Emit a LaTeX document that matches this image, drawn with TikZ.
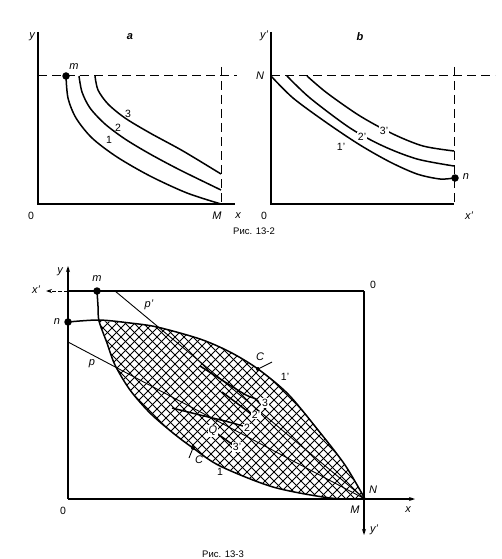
\documentclass[tikz,border=0pt]{standalone}
\usepackage{fontspec}
\setmainfont{Liberation Sans}
\usetikzlibrary{arrows.meta}
\begin{document}
\begin{tikzpicture}[x=1pt,y=-1pt,
  lbl/.style={font=\fontsize{11}{13}\selectfont\itshape, inner sep=0pt},
  num/.style={font=\fontsize{10.5}{12}\selectfont, inner sep=0pt},
  captext/.style={font=\fontsize{9.5}{11}\selectfont, inner sep=0pt},
  axisline/.style={line width=1.1pt},
  curve/.style={line width=1.5pt, line join=round},
  thinc/.style={line width=0.9pt},
  dashline/.style={line width=1pt, dash pattern=on 9pt off 5pt},
  bigdot/.style={circle, fill=black, inner sep=0pt, minimum size=7.5pt},
  smalldot/.style={circle, fill=black, inner sep=0pt, minimum size=4pt},
  hatch/.style={line width=1pt},
]
\useasboundingbox (0,0) rectangle (502,559);

% ---------------- Fig 13-2 a ----------------
\coordinate (aO) at (38,204);
\coordinate (aYt) at (38,32);
\coordinate (aXe) at (235,204);
\draw[axisline] (aYt) -- (aO) -- (aXe);
\coordinate (aDh1) at (38,76); \coordinate (aDh2) at (237,76);
\coordinate (aDv1) at (221,67); \coordinate (aDv2) at (221,204);
\draw[dashline] (aDh1) -- (aDh2);
\draw[dashline] (aDv1) -- (aDv2);
\draw[curve] plot[smooth] coordinates {(66,76) (68,98) (76,118) (92,138) (117,157) (150,176) (187,193) (221,204)};
\draw[curve] plot[smooth] coordinates {(79,76) (82,92) (90,108) (105,124) (125,139) (150,154) (180,170) (221,190)};
\draw[curve] plot[smooth] coordinates {(95,76) (98,90) (108,104) (125,118) (150,133) (183,151) (221,174)};
\node[bigdot] (m1) at (66,76) {};
\node[lbl] (lm1) at (74,67) {m};
\node[lbl] (ly1) at (32,37) {y};
\node[lbl, font=\fontsize{11}{13}\selectfont\bfseries\itshape] (la) at (130,37) {a};
\node[num] (l01) at (31,216) {0};
\node[lbl] (lM1) at (217,216) {M};
\node[lbl] (lx1) at (238,216) {x};
\node[num] (c1) at (109,140) {1};
\node[num] (c2) at (118,128) {2};
\node[num] (c3) at (128,114) {3};

% ---------------- Fig 13-2 b ----------------
\coordinate (bO) at (271,204);
\coordinate (bYt) at (271,32);
\coordinate (bXe) at (454,204);
\draw[axisline] (bYt) -- (bO) -- (bXe);
\coordinate (bDh1) at (271,76); \coordinate (bDh2) at (495,76);
\coordinate (bDv1) at (454,67); \coordinate (bDv2) at (454,204);
\draw[dashline] (bDh1) -- (bDh2);
\draw[dashline] (bDv1) -- (bDv2);
\draw[curve] plot[smooth] coordinates {(271,76) (293,98) (327,123) (360,145) (390,162) (417,174) (440,179) (454,178)};
\draw[curve] plot[smooth] coordinates {(287,76) (310,98) (350,128) (383,146) (417,159) (454,166)};
\draw[curve] plot[smooth] coordinates {(307,76) (327,93) (360,116) (393,134) (423,146) (454,151)};
\node[bigdot] (n1) at (455,178) {};
\node[lbl] (ln1) at (466,177) {n};
\node[lbl] (lyb) at (264,36) {y'};
\node[lbl, font=\fontsize{11}{13}\selectfont\bfseries\itshape] (lb) at (360,37) {b};
\node[lbl] (lN1) at (260,76) {N};
\node[num] (l02) at (264,216) {0};
\node[lbl] (lxb) at (469,216) {x'};
\node[num] (c1p) at (341,147) {1'};
\node[num, fill=white, inner sep=1pt] (c2p) at (362,137) {2'};
\node[num, fill=white, inner sep=1pt] (c3p) at (384,131) {3'};

\node[captext] (cap1) at (254,231) {Рис. 13-2};

% ---------------- Fig 13-3 ----------------
\coordinate (O) at (68,499);
\coordinate (Ytop) at (68,266);
\coordinate (Xend) at (415,499);
\coordinate (Op) at (364,291);
\coordinate (TL) at (68,291);
\coordinate (Xp) at (46,291);
\coordinate (Yp) at (364,535);
\coordinate (MN) at (365,499);
\draw[axisline,-{Stealth[length=6pt,width=4pt]}] (O) -- (Ytop);
\draw[axisline,-{Stealth[length=6pt,width=4pt]}] (O) -- (Xend);
\draw[axisline] (Op) -- (TL);
\draw[thinc, dash pattern=on 4pt off 2pt,-{Stealth[length=6pt,width=4pt]}] (TL) -- (Xp);
\draw[axisline,-{Stealth[length=6pt,width=4pt]}] (Op) -- (Yp);

% hatched lens
\begin{scope}
\clip plot[smooth] coordinates {(99,321) (130,323) (157,327) (200,339) (230,352) (258,369) (288,394) (318,430) (345,465) (365,499)}
  -- plot[smooth] coordinates {(365,499) (330,498) (273,487) (220,466) (193,448) (173,433) (150,413) (130,390) (115,365) (107,343) (99,321)} -- cycle;
\foreach \k in {-450,-441,...,100} \draw[hatch] ({\k+280},280) -- ({\k+510},510);
\foreach \k in {350,359,...,900} \draw[hatch] ({\k-280},280) -- ({\k-510},510);
\end{scope}

% price lines p and p'
\coordinate (pA) at (68,342);
\coordinate (ppA) at (115,291);
\draw[thinc] (pA) -- (MN);
\draw[thinc] (ppA) -- (MN);
\node[lbl] (lp) at (92,364) {p};
\node[lbl] (lpp) at (149,305) {p'};

% boundary curves 1 and 1'
\draw[curve] plot[smooth] coordinates {(97,291) (98,306) (99,321) (107,343) (115,365) (130,390) (150,413) (173,433) (193,448) (220,466) (273,487) (330,498) (365,499)};
\draw[curve] plot[smooth] coordinates {(68,322) (99,320) (130,323) (157,327) (200,339) (230,352) (258,369) (288,394) (318,430) (345,465) (365,499)};

% inner indifference curves
\draw[curve] plot[smooth] coordinates {(200,366) (225,382) (246,395) (256,399) (259,403)};
\draw[curve] plot[smooth] coordinates {(172,408) (200,415) (225,421) (243,426)};
\draw[curve] plot[smooth] coordinates {(222,392) (238,404) (251,414)};
\draw[curve] plot[smooth] coordinates {(208,428) (222,437) (233,445)};

% points
\node[bigdot] (m2) at (97,291) {};
\node[bigdot] (n2) at (68,322) {};
\node[smalldot] (C1) at (193,448) {};
\node[smalldot] (C2) at (258,369) {};
\coordinate (C1t) at (189,458);
\coordinate (C2t) at (272,362);
\draw[thinc] (C1) -- (C1t);
\draw[thinc] (C2) -- (C2t);

% labels
\node[lbl] (lm2) at (97,279) {m};
\node[lbl] (ln2) at (57,322) {n};
\node[lbl] (ly2) at (60,272) {y};
\node[lbl] (lx2) at (36,290) {x'};
\node[num] (l0p) at (373,285) {0};
\node[num] (l03) at (63,511) {0};
\node[lbl] (lM2) at (355,510) {M};
\node[lbl] (lx3) at (408,510) {x};
\node[lbl] (lN2) at (373,490) {N};
\node[lbl] (lyp2) at (374,530) {y'};
\node[lbl] (lC1) at (199,460) {C};
\node[lbl] (lC2) at (260,357) {C};
\node[num] (k1p) at (285,377) {1'};
\node[num] (k1) at (220,472) {1};
\node[lbl, fill=white, inner sep=0.8pt] (lQ) at (213,431) {Q};
\node[num, fill=white, inner sep=0.8pt] (k3) at (265,403) {3};
\node[num, fill=white, inner sep=0.8pt] (k2p) at (256,415) {2'};
\node[num, fill=white, inner sep=0.8pt] (k2) at (247,428) {2};
\node[num, fill=white, inner sep=0.8pt] (k3p) at (237,447) {3'};

\node[captext] (cap2) at (223,554) {Рис. 13-3};
\end{tikzpicture}
\end{document}
